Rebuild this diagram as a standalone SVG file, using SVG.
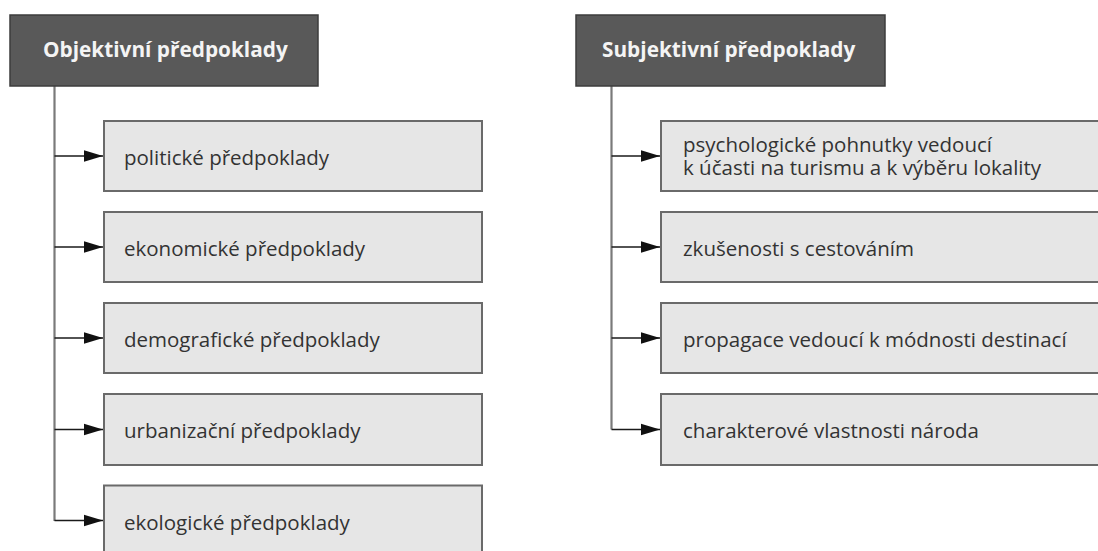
<svg xmlns="http://www.w3.org/2000/svg" width="1098" height="551" viewBox="0 0 1098 551">
  <defs>
    <marker id="arrow" markerUnits="userSpaceOnUse" markerWidth="19" markerHeight="14" refX="19" refY="7" orient="auto">
      <path d="M0,1.2 L19,7 L0,12.8 z" fill="#111"/>
    </marker>
  </defs>
  <style>
    .head rect { fill: #595959; stroke: #3c3c3c; stroke-width: 1.5; }
    .head text { font-family: "Open Sans", "Noto Sans", sans-serif; font-weight: 700; font-size: 20.8px; fill: #f4f4f4; }
    .item rect { fill: #e6e6e6; stroke: #6a6a6a; stroke-width: 2; }
    .item text { font-family: "Open Sans", "Noto Sans", sans-serif; font-size: 20.5px; fill: #333; }
    .trunk { stroke: #7a7a7a; stroke-width: 2.2; fill: none; }
    .branch { stroke: #1a1a1a; stroke-width: 1.6; fill: none; marker-end: url(#arrow); }
  </style>
  <rect width="1098" height="551" fill="#fff"/>

  <!-- connectors: one grey trunk per column, one arrow per item -->
  <g id="connectors">
    <path class="trunk" d="M54.5,86 V521"/>
    <path class="branch" d="M54.5,156 H103"/>
    <path class="branch" d="M54.5,247 H103"/>
    <path class="branch" d="M54.5,338 H103"/>
    <path class="branch" d="M54.5,429.5 H103"/>
    <path class="branch" d="M54.5,520.5 H103"/>

    <path class="trunk" d="M611.5,86 V429.5"/>
    <path class="branch" d="M611.5,156 H660"/>
    <path class="branch" d="M611.5,247 H660"/>
    <path class="branch" d="M611.5,338 H660"/>
    <path class="branch" d="M611.5,429.5 H660"/>
  </g>

  <!-- left column -->
  <g id="objective" class="head">
    <rect x="10" y="15" width="308" height="71"/>
    <text x="43" y="56.5">Objektivní předpoklady</text>
  </g>
  <g id="political" class="item">
    <rect x="104" y="121" width="378" height="70"/>
    <text x="124" y="165">politické předpoklady</text>
  </g>
  <g id="economic" class="item">
    <rect x="104" y="212" width="378" height="70"/>
    <text x="124" y="256">ekonomické předpoklady</text>
  </g>
  <g id="demographic" class="item">
    <rect x="104" y="303" width="378" height="70"/>
    <text x="124" y="347">demografické předpoklady</text>
  </g>
  <g id="urbanization" class="item">
    <rect x="104" y="394" width="378" height="71"/>
    <text x="124" y="438">urbanizační předpoklady</text>
  </g>
  <g id="ecological" class="item">
    <rect x="104" y="485.5" width="378" height="72"/>
    <text x="124" y="530">ekologické předpoklady</text>
  </g>

  <!-- right column -->
  <g id="subjective" class="head">
    <rect x="576" y="15" width="309" height="71"/>
    <text x="602" y="56.5">Subjektivní předpoklady</text>
  </g>
  <g id="psychological" class="item">
    <rect x="661" y="121" width="450" height="70"/>
    <text x="683" y="151.5"><tspan x="683" y="151.5">psychologické pohnutky vedoucí</tspan><tspan x="683" y="175">k účasti na turismu a k výběru lokality</tspan></text>
  </g>
  <g id="experience" class="item">
    <rect x="661" y="212" width="450" height="70"/>
    <text x="683" y="256">zkušenosti s cestováním</text>
  </g>
  <g id="promotion" class="item">
    <rect x="661" y="303" width="450" height="70"/>
    <text x="683" y="347">propagace vedoucí k módnosti destinací</text>
  </g>
  <g id="character" class="item">
    <rect x="661" y="394" width="450" height="71"/>
    <text x="683" y="438">charakterové vlastnosti národa</text>
  </g>
</svg>
